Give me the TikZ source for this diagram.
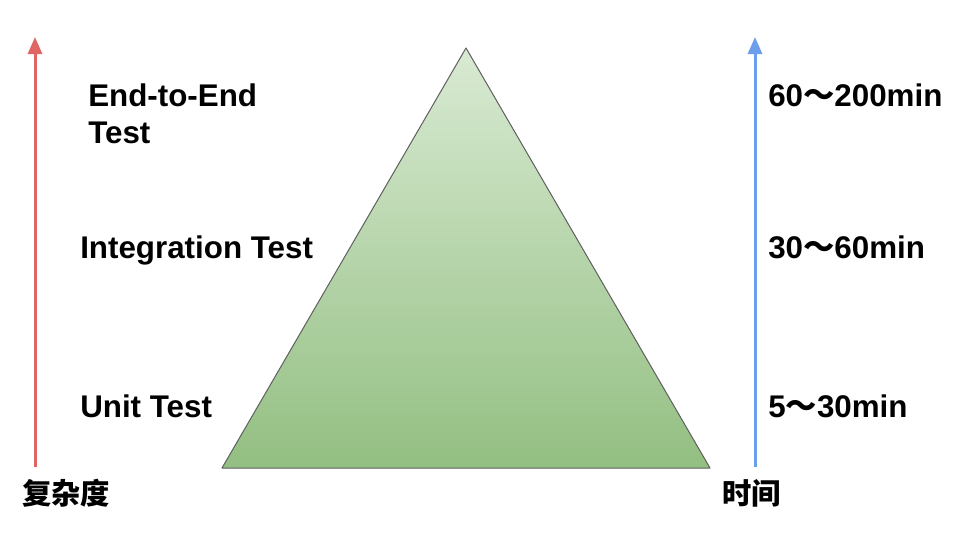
\documentclass[tikz,border=0pt]{standalone}
\usepackage{fontspec}
\usepackage{tikz}
\usetikzlibrary{arrows.meta}
\setmainfont{Liberation Sans}
\newfontfamily\cjk{Noto Sans CJK SC}
\definecolor{axisred}{HTML}{E06666}
\definecolor{axisblue}{HTML}{6D9EEB}
\definecolor{pyrtop}{HTML}{D9EAD3}
\definecolor{pyrbottom}{HTML}{93BF82}
\definecolor{pyredge}{HTML}{5F5F5F}
\tikzset{
  axis/.style={line width=2.25pt,-{Triangle[length=12.75pt,width=10.5pt]}},
  lbl/.style={anchor=base west,inner sep=0pt,font=\bfseries\fontsize{23.5}{27.75}\selectfont},
  cjklbl/.style={anchor=base west,inner sep=0pt,font=\cjk\bfseries\fontsize{22}{26}\selectfont}
}
\newcommand{\wave}{{\cjk\bfseries ～}}

\begin{document}
\begin{tikzpicture}[x=0.75pt,y=-0.75pt]
    \useasboundingbox (0,0) rectangle (960,540);
    % pyramid
    \coordinate (apex) at (466,48);
    \coordinate (bl) at (222,468);
    \coordinate (br) at (710,468);
    \shade[top color=pyrtop,bottom color=pyrbottom] (apex)--(br)--(bl)--cycle;
    \draw[pyredge,line width=0.75pt,line join=round] (apex)--(br)--(bl)--cycle;
    % axes
    \coordinate (cbot) at (35,467);
    \coordinate (ctop) at (35,37);
    \coordinate (tbot) at (755,467);
    \coordinate (ttop) at (755,37);
    \draw[axis,axisred] (cbot)--(ctop); %复杂度
    \draw[axis,axisblue] (tbot)--(ttop); %时间
    % levels (base of a two-line node is its last line)
    \node[lbl,align=left] (e2e) at (88,143) {End-to-End\\Test};
    \node[lbl] (integ) at (80,258) {Integration Test};
    \node[lbl] (unit) at (80,417) {Unit Test};
    \node[lbl] (te2e) at (768,106) {60\wave200min};
    \node[lbl] (tinteg) at (768,258) {30\wave60min};
    \node[lbl] (tunit) at (768,417) {5\wave30min};
    \node[cjklbl] (cplx) at (22,504) {复杂度};
    \node[cjklbl] (time) at (722,504) {时间};
\end{tikzpicture}
\end{document}
